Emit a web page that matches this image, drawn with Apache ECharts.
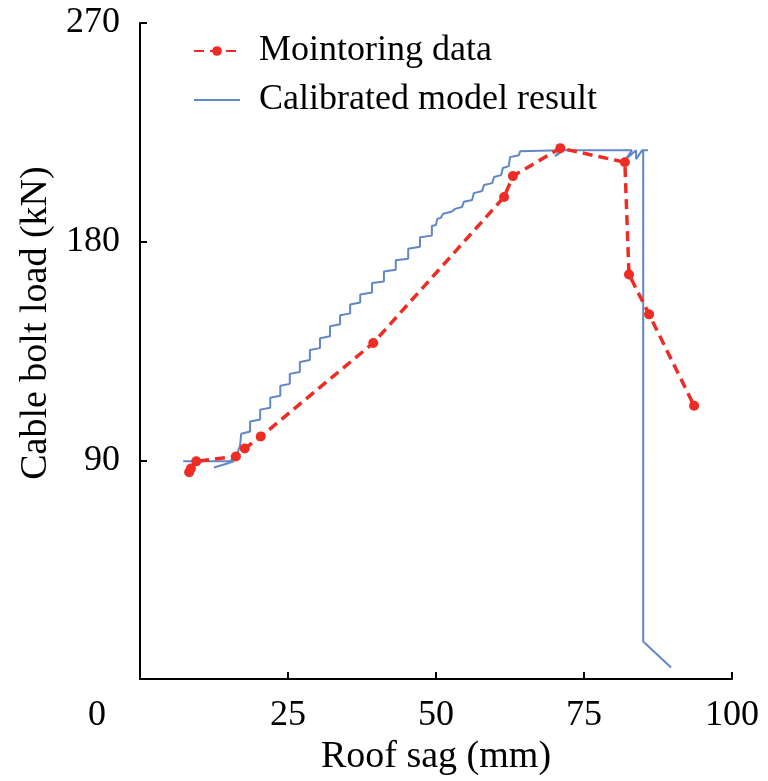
<!DOCTYPE html>
<html>
<head>
<meta charset="utf-8">
<script src="https://cdn.jsdelivr.net/npm/echarts@6/dist/echarts.min.js"></script>
<style>
  html, body { margin: 0; padding: 0; background: #fff; }
  #chart { width: 768px; height: 781px; }
</style>
</head>
<body>
<div id="chart"></div>
<script>
// 监测数据 (Mointoring data)
const monitorSag = [8.3, 8.6, 9.5, 16.2, 17.7, 20.4, 39.4, 61.5, 63.0, 71.0, 81.9, 82.6, 86.0, 93.6];
const monitorLoad = [85.1, 86.7, 89.6, 91.6, 94.9, 99.8, 138.3, 198.4, 207.0, 218.5, 212.7, 166.5, 150.1, 112.5];

// 模型结果 (Calibrated model result)
const modelSag = [
  7.3, 15.9, 12.5, 14.9, 16.4, 16.9, 17.1, 18.6, 18.6, 20.3, 20.3, 22.0, 22.0, 23.7, 23.7,
  25.3, 25.3, 27.0, 27.0, 28.7, 28.7, 30.4, 30.4, 32.1, 32.1, 33.8, 33.8, 35.5, 35.5, 37.2,
  37.2, 39.2, 39.2, 41.2, 41.2, 43.2, 43.2, 45.3, 45.3, 47.3, 47.3, 49.3, 49.3, 50.0, 50.2,
  50.8, 51.2, 51.9, 52.7, 53.2, 54.4, 54.7, 56.1, 56.4, 57.8, 58.1, 59.5, 59.8, 61.0, 61.3,
  62.3, 62.5, 64.0, 64.2, 71.0, 70.1, 71.6, 83.1, 81.9, 83.8, 83.8, 84.8, 85.8, 85.0, 85.0, 89.7
];
const modelLoad = [
  89.6, 89.6, 87.1, 88.8, 92.5, 96.1, 101.0, 101.9, 106.0, 106.8, 110.9, 111.7, 115.8, 116.6, 120.7,
  121.5, 125.6, 126.4, 130.5, 131.3, 135.4, 136.2, 140.3, 141.1, 145.2, 146.0, 149.7, 150.5, 154.2, 155.0,
  158.3, 159.1, 163.0, 163.6, 167.7, 168.5, 172.4, 173.0, 177.1, 177.9, 181.8, 182.5, 186.5, 186.9, 189.4,
  189.8, 191.5, 191.9, 192.4, 193.5, 194.3, 196.4, 197.2, 200.0, 200.9, 203.3, 204.1, 206.6, 207.4, 210.3,
  211.1, 214.8, 215.6, 217.2, 217.6, 215.2, 217.6, 217.6, 213.5, 217.6, 214.0, 217.6, 217.6, 217.6, 15.5, 4.8
];

const xTicks = [0, 25, 50, 75, 100];
const yTicks = [0, 90, 180, 270];

const font = 'Liberation Serif';
const red = '#ee2c24';
const blue = '#6187c6';

let myChart = echarts.init(document.getElementById('chart'));

let option = {
  animation: false,
  textStyle: { fontFamily: font, color: '#000' },
  legend: {
    orient: 'vertical',
    left: 188,
    top: 28,
    itemWidth: 46,
    itemHeight: 12,
    itemGap: 13,
    textStyle: { fontFamily: font, fontSize: 36, color: '#000', padding: [0, 0, 0, 14] },
    data: [
      { name: 'Mointoring data' },
      { name: 'Calibrated model result', itemStyle: { opacity: 0 } }
    ]
  },
  grid: {
    left: 140,
    right: 36,
    top: 23,
    bottom: 98
  },
  xAxis: {
    type: 'value',
    min: xTicks[0],
    max: xTicks[xTicks.length - 1],
    interval: 25,
    name: 'Roof sag (mm)',
    nameLocation: 'middle',
    nameGap: 50,
    nameTextStyle: { fontFamily: font, fontSize: 38, color: '#000' },
    axisLine: { lineStyle: { color: '#000', width: 2 } },
    axisTick: { inside: true, length: 7, lineStyle: { color: '#000', width: 2 } },
    splitLine: { show: false },
    axisLabel: {
      margin: 18,
      fontFamily: font,
      fontSize: 36,
      color: '#000',
      formatter: v => (v === 0 ? '{o|0}' : String(v)),
      rich: {
        o: { fontFamily: font, fontSize: 36, color: '#000', padding: [0, 86, 0, 0] }
      }
    }
  },
  yAxis: {
    type: 'value',
    min: yTicks[0],
    max: yTicks[yTicks.length - 1],
    interval: 90,
    name: 'Cable bolt load (kN)',
    nameLocation: 'middle',
    nameGap: 84,
    nameTextStyle: { fontFamily: font, fontSize: 38, color: '#000', padding: [0, 0, 0, 56] },
    axisLine: { show: true, lineStyle: { color: '#000', width: 2 } },
    axisTick: { show: true, inside: true, length: 7, lineStyle: { color: '#000', width: 2 } },
    splitLine: { show: false },
    axisLabel: {
      margin: 20,
      fontFamily: font,
      fontSize: 36,
      color: '#000',
      showMinLabel: false
    }
  },
  series: [
    {
      name: 'Calibrated model result',
      type: 'line',
      data: modelSag.map((x, i) => [x, modelLoad[i]]),
      symbol: 'none',
      color: blue,
      lineStyle: { width: 2, color: blue },
      z: 2
    },
    {
      name: 'Mointoring data',
      type: 'line',
      data: monitorSag.map((x, i) => [x, monitorLoad[i]]),
      symbol: 'circle',
      symbolSize: 10,
      color: red,
      itemStyle: { color: red },
      lineStyle: { width: 3.5, type: [10, 6], color: red },
      z: 3
    }
  ]
};

myChart.setOption(option);
</script>
</body>
</html>
